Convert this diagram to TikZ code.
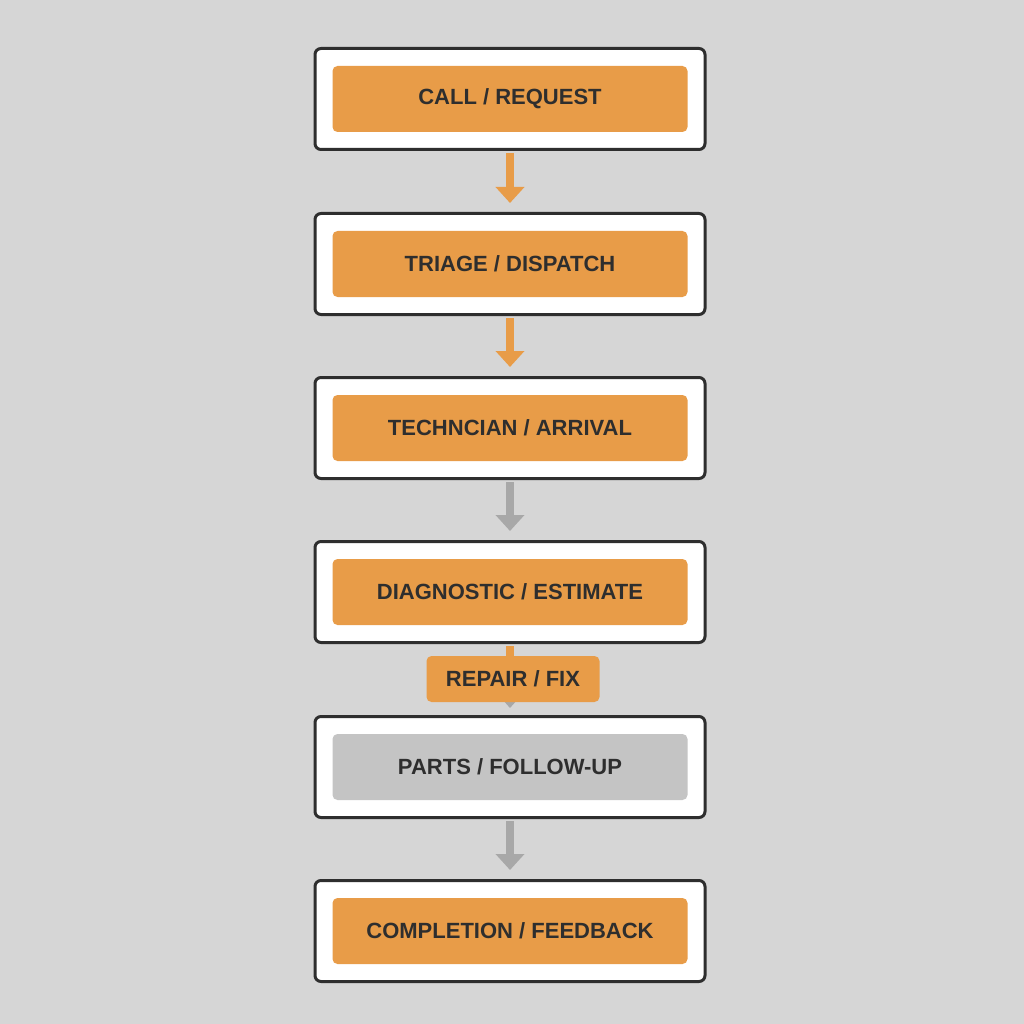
\documentclass[tikz,border=0pt]{standalone}
\usepackage{fontspec}
\setmainfont{Liberation Sans}
\usetikzlibrary{arrows.meta}
\definecolor{bg}{HTML}{D6D6D6}
\definecolor{org}{HTML}{E89C48}
\definecolor{gry}{HTML}{A8A8A8}
\definecolor{ink}{HTML}{2E2E2E}
\definecolor{pal}{HTML}{C4C4C4}
\begin{document}
\begin{tikzpicture}[x=1pt,y=-1pt,
 outer/.style={draw=ink,line width=3pt,fill=white,rounded corners=6pt,minimum width=390pt,minimum height=101pt,inner sep=0pt},
 inner/.style={fill=org,rounded corners=5pt,minimum width=355pt,minimum height=66pt,inner sep=0pt,text=ink,font=\bfseries\fontsize{22}{25}\selectfont},
 flow/.style={line width=8pt,-{Triangle[width=28pt,length=16pt]}},
]
\fill[bg] (0,0) rectangle (1024,1024);
\foreach \n/\y in {1/99,2/264,3/428,4/592,5/767,6/931}{
 \node[outer] (o\n) at (510,\y) {};
}
\node[inner] (i1) at (510,99) {CALL / REQUEST};
\node[inner] (i2) at (510,264) {TRIAGE / DISPATCH};
\node[inner] (i3) at (510,428) {TECHNCIAN / ARRIVAL};
\node[inner] (i4) at (510,592) {DIAGNOSTIC / ESTIMATE};
\node[inner,fill=pal] (i5) at (510,767) {PARTS / FOLLOW-UP};
\node[inner] (i6) at (510,931) {COMPLETION / FEEDBACK};
\draw[flow,org] ([yshift=-2pt]o1.south) -- ([yshift=9pt]o2.north);
\draw[flow,org] ([yshift=-2pt]o2.south) -- ([yshift=9pt]o3.north);
\draw[flow,gry] ([yshift=-2pt]o3.south) -- ([yshift=9pt]o4.north);
\draw[flow,gry] ([yshift=-2pt]o5.south) -- ([yshift=9pt]o6.north);
\coordinate (rt) at (510,708);
\draw[gry,line width=8pt,-{Triangle[width=12pt,length=7pt]}] ([yshift=-2pt]o4.south) -- (rt);
\draw[org,line width=8pt] ([yshift=-2pt]o4.south) -- ++(0,14);
\node[inner,minimum width=173pt,minimum height=46pt] (rep) at (513,679) {REPAIR / FIX};
\end{tikzpicture}
\end{document}
